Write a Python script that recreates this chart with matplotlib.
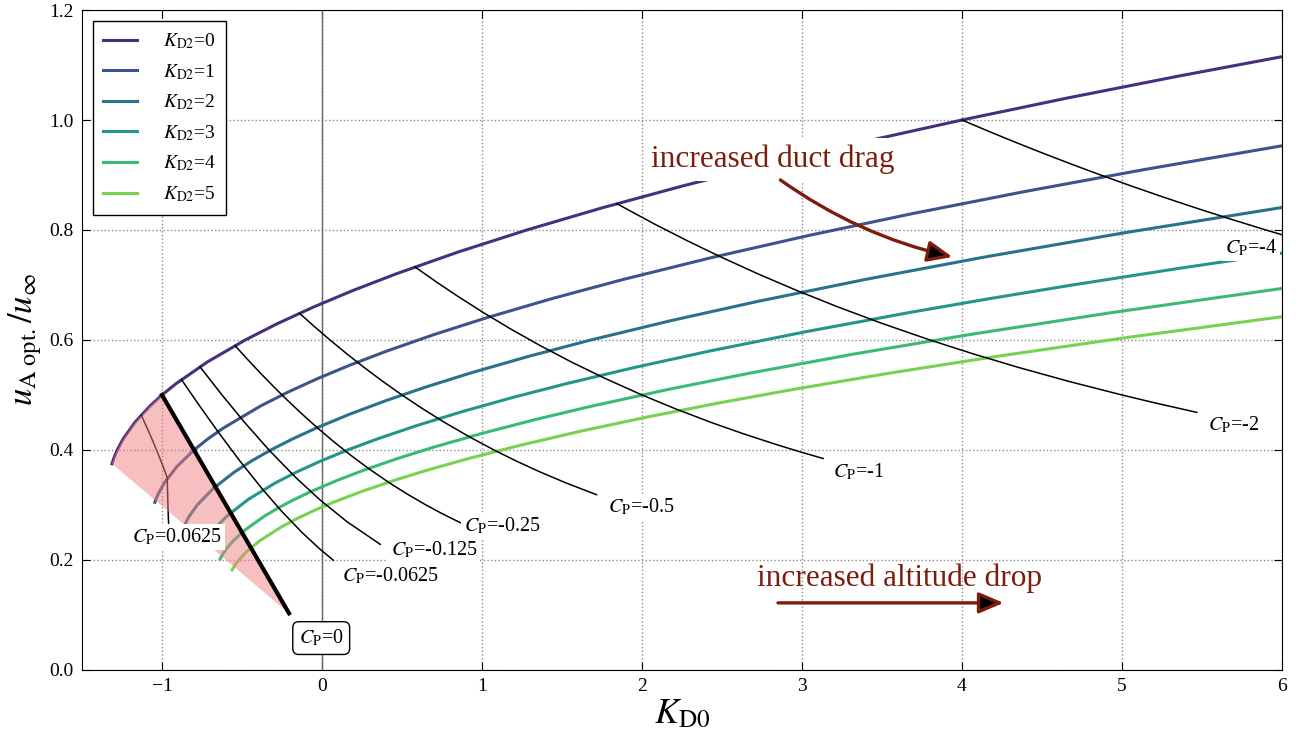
import numpy as np
import matplotlib
matplotlib.use("Agg")
import matplotlib.pyplot as plt

plt.rcParams['font.family'] = ['Liberation Serif', 'DejaVu Serif']
plt.rcParams['mathtext.fontset'] = 'stix'

# K_D2 curves: (K_D0, u_A opt / u_inf)
kd2_labels = ['0', '1', '2', '3', '4', '5']
kd2_colors = ['#472f7d', '#3b548c', '#2a728c', '#23958a', '#3bb977', '#79d151']

k0_y = [0.375, 0.38, 0.39, 0.40, 0.42, 0.45, 0.48, 0.50, 0.52, 0.56, 0.60, 0.63, 0.66,
        0.69, 0.72, 0.76, 0.80, 0.84, 0.88, 0.92, 0.96, 1.00, 1.04, 1.08, 1.1151]
k0_x = [-1.3125, -1.3072, -1.2948, -1.28, -1.2432, -1.17, -1.0752, -1.0, -0.9152,
        -0.7168, -0.48, -0.2772, -0.0528, 0.1932, 0.4608, 0.8512, 1.28, 1.7472,
        2.2528, 2.7968, 3.3792, 4.0, 4.6592, 5.3568, 6.0]
k1_y = [0.305, 0.31, 0.32, 0.34, 0.37, 0.40, 0.42, 0.44, 0.48, 0.505, 0.53, 0.555,
        0.58, 0.61, 0.64, 0.675, 0.71, 0.75, 0.79, 0.83, 0.87, 0.91, 0.9531]
k1_x = [-1.0446, -1.0385, -1.024, -0.986, -0.9065, -0.8, -0.714, -0.616, -0.384,
        -0.2146, -0.0265, 0.1804, 0.406, 0.7015, 1.024, 1.4344, 1.8815, 2.4375,
        3.0415, 3.6935, 4.3935, 5.1415, 6.0]
k2_y = [0.26, 0.27, 0.28, 0.30, 0.33, 0.36, 0.38, 0.40, 0.42, 0.44, 0.465, 0.49,
        0.515, 0.54, 0.57, 0.60, 0.635, 0.67, 0.71, 0.75, 0.795, 0.8409]
k2_x = [-0.8632, -0.8478, -0.8288, -0.78, -0.6798, -0.5472, -0.4408, -0.32, -0.1848,
        -0.0352, 0.1721, 0.4018, 0.6541, 0.9288, 1.2882, 1.68, 2.1781, 2.7202,
        3.3938, 4.125, 5.0165, 6.0]
k3_y = [0.227, 0.235, 0.245, 0.26, 0.28, 0.31, 0.34, 0.36, 0.38, 0.40, 0.42, 0.445,
        0.47, 0.495, 0.52, 0.55, 0.58, 0.615, 0.65, 0.675, 0.70, 0.73, 0.7579]
k3_x = [-0.7339, -0.7203, -0.6995, -0.6604, -0.5936, -0.4619, -0.2924, -0.1584,
        -0.0076, 0.16, 0.3444, 0.5985, 0.8789, 1.1855, 1.5184, 1.9525, 2.4244,
        3.0227, 3.6725, 4.1681, 4.69, 5.3509, 6.0]
k4_y = [0.202, 0.21, 0.22, 0.235, 0.255, 0.28, 0.295, 0.31, 0.325, 0.345, 0.365,
        0.385, 0.405, 0.43, 0.455, 0.48, 0.51, 0.54, 0.575, 0.61, 0.65, 0.6937]
k4_x = [-0.6367, -0.6216, -0.5984, -0.5546, -0.4794, -0.3584, -0.2714, -0.1736,
        -0.065, 0.0966, 0.2774, 0.4774, 0.6966, 0.9976, 1.3286, 1.6896, 2.1624,
        2.6784, 3.335, 4.0504, 4.94, 6.0]
k5_y = [0.182, 0.19, 0.20, 0.215, 0.235, 0.26, 0.275, 0.29, 0.305, 0.325, 0.345,
        0.365, 0.385, 0.41, 0.435, 0.46, 0.485, 0.51, 0.54, 0.57, 0.605, 0.6423]
k5_x = [-0.5617, -0.5453, -0.52, -0.4719, -0.3889, -0.2548, -0.1581, -0.0493,
        0.0717, 0.2519, 0.4537, 0.6771, 0.9221, 1.2587, 1.6291, 2.0332, 2.4711,
        2.9427, 3.5532, 4.2123, 5.0427, 6.0]

# iso C_P lines
cp_p0625_y = [0.4637, 0.44, 0.42, 0.40, 0.385, 0.37, 0.35, 0.29, 0.26]
cp_p0625_x = [-1.1296, -1.0931, -1.0632, -1.0344, -1.0135, -0.9934, -0.9679, -0.962, -0.958]
cp_0_y = [0.5, 0.103]
cp_0_x = [-1.0, -0.206]
cp_m0625_y = [0.5281, 0.48, 0.43, 0.38, 0.33, 0.29, 0.25, 0.22, 0.1995]
cp_m0625_x = [-0.8787, -0.7647, -0.642, -0.5133, -0.3759, -0.2567, -0.125, -0.0139, 0.0709]
cp_m125_y = [0.5513, 0.50, 0.45, 0.40, 0.35, 0.31, 0.27, 0.2284]
cp_m125_x = [-0.7625, -0.625, -0.4833, -0.3313, -0.1643, -0.0152, 0.1544, 0.3641]
cp_m25_y = [0.5898, 0.565, 0.54, 0.515, 0.49, 0.465, 0.44, 0.415, 0.39, 0.365, 0.34,
            0.32, 0.30, 0.285, 0.2675]
cp_m25_x = [-0.5438, -0.4663, -0.3856, -0.3018, -0.2147, -0.1235, -0.0277, 0.0736,
            0.1815, 0.2974, 0.4229, 0.5319, 0.65, 0.7458, 0.8669]
cp_m5_y = [0.6485, 0.625, 0.60, 0.575, 0.55, 0.525, 0.50, 0.475, 0.45, 0.425, 0.40,
           0.38, 0.36, 0.34, 0.3187]
cp_m5_x = [-0.1405, -0.05, 0.05, 0.1543, 0.2636, 0.3786, 0.5, 0.6289, 0.7667, 0.9147,
           1.075, 1.2137, 1.3633, 1.5259, 1.7159]
cp_m1_y = [0.7328, 0.705, 0.68, 0.65, 0.62, 0.59, 0.56, 0.53, 0.50, 0.475, 0.45,
           0.43, 0.41, 0.397, 0.3845]
cp_m1_x = [0.5813, 0.7177, 0.8459, 1.0077, 1.1794, 1.3624, 1.5586, 1.7702, 2.0,
           2.2079, 2.4333, 2.6284, 2.8385, 2.9843, 3.1322]
cp_m2_y = [0.8477, 0.81, 0.78, 0.75, 0.72, 0.69, 0.66, 0.63, 0.60, 0.575, 0.55,
           0.525, 0.50, 0.485, 0.4684]
cp_m2_x = [1.8436, 2.0837, 2.2862, 2.5, 2.7267, 2.9678, 3.2255, 3.5019, 3.8, 4.0674,
           4.3545, 4.6643, 5.0, 5.2156, 5.468]
cp_m4_y = [1.0, 0.98, 0.96, 0.94, 0.92, 0.90, 0.88, 0.86, 0.84, 0.82, 0.80, 0.78]
cp_m4_x = [4.0, 4.1624, 4.33, 4.503, 4.6817, 4.8667, 5.0582, 5.2567, 5.4629, 5.6771,
           5.9, 6.1323]

# label texts and anchor points (left edge, centre height)
cp_texts = ['0.0625', '-0.0625', '-0.125', '-0.25', '-0.5', '-1', '-2', '-4']
cp_text_x = [-1.185, 0.125, 0.43, 0.885, 1.79, 3.195, 5.535, 5.645]
cp_text_y = [0.242, 0.171, 0.219, 0.261, 0.296, 0.360, 0.445, 0.767]

fig = plt.figure(figsize=(13.04, 7.36), dpi=100)
ax = fig.add_axes([0.0629, 0.0897, 0.9202, 0.8967])

kd2_x = [k0_x, k1_x, k2_x, k3_x, k4_x, k5_x]
kd2_y = [k0_y, k1_y, k2_y, k3_y, k4_y, k5_y]
for xs, ys, lab, col in zip(kd2_x, kd2_y, kd2_labels, kd2_colors):
    ax.plot(xs, ys, color=col, lw=2.2, zorder=2,
            label=r'$K_\mathrm{D2}$=' + lab)

ax.plot(cp_p0625_x, cp_p0625_y, color='k', lw=1.1, zorder=2)
for xs, ys in [(cp_m0625_x, cp_m0625_y), (cp_m125_x, cp_m125_y),
               (cp_m25_x, cp_m25_y), (cp_m5_x, cp_m5_y), (cp_m1_x, cp_m1_y),
               (cp_m2_x, cp_m2_y), (cp_m4_x, cp_m4_y)]:
    ax.plot(xs, ys, color='k', lw=1.1, zorder=2)

# pink region: C_P > 0
px = [x for x, y in zip(k0_x, k0_y) if y <= 0.5] + [cp_0_x[1]]
py = [y for y in k0_y if y <= 0.5] + [cp_0_y[1]]
ax.fill(px, py, color='lightcoral', alpha=0.5, lw=0, zorder=3)
ax.plot(cp_0_x, cp_0_y, color='k', lw=3, zorder=4)

ax.axvline(0, color='0.4', lw=1, zorder=1)

box = dict(facecolor='white', edgecolor='none', pad=2)
for t, x, y in zip(cp_texts, cp_text_x, cp_text_y):
    ax.text(x, y, r'$C_\mathrm{P}$=' + t, fontsize=14.5, ha='left', va='center',
            bbox=box, zorder=6, clip_on=False)
ax.text(-0.005, 0.058, r'$C_\mathrm{P}$=0', fontsize=14.5, ha='center', va='center',
        bbox=dict(boxstyle='round,pad=0.3', facecolor='white', edgecolor='k', lw=1),
        zorder=6)

red = '#7c1c0c'
ax.text(2.82, 0.928, 'increased duct drag', fontsize=22.5, color=red,
        ha='center', va='center', zorder=5,
        bbox=dict(facecolor='white', edgecolor='none', pad=5))
ax.annotate('', xy=(3.94, 0.751), xytext=(2.865, 0.891), zorder=6,
            arrowprops=dict(arrowstyle='-|>,head_length=0.75,head_width=0.32',
                            mutation_scale=20, lw=2.4, edgecolor=red, facecolor='k',
                            connectionstyle='arc3,rad=0.1', shrinkA=0, shrinkB=0))
ax.text(3.61, 0.166, 'increased altitude drop', fontsize=22.5, color=red,
        ha='center', va='center', zorder=5)
ax.annotate('', xy=(4.26, 0.122), xytext=(2.85, 0.122), zorder=6,
            arrowprops=dict(arrowstyle='-|>,head_length=0.75,head_width=0.32',
                            mutation_scale=20, lw=2.4, edgecolor=red, facecolor='k',
                            shrinkA=0, shrinkB=0))

ax.set_xlim(-1.5, 6)
ax.set_ylim(0, 1.2)
ax.set_xticks([-1, 0, 1, 2, 3, 4, 5, 6])
ax.set_yticks([0.0, 0.2, 0.4, 0.6, 0.8, 1.0, 1.2])
ax.tick_params(direction='in', top=True, right=True, length=6, labelsize=14, pad=6)
ax.grid(True, linestyle=':', color='0.55', lw=1)
ax.set_axisbelow(True)
ax.set_xlabel(r'$K_\mathrm{D0}$', fontsize=26, labelpad=2)
ax.set_ylabel(r'$u_\mathrm{A\ opt.}/u_\infty$', fontsize=25, labelpad=4)

leg = ax.legend(loc='upper left', fontsize=14, fancybox=False, framealpha=1,
                edgecolor='k', handlelength=1.75, labelspacing=0.56,
                handletextpad=1.3, borderpad=0.55, borderaxespad=0.55)
leg.get_frame().set_linewidth(1)
leg.set_zorder(7)

fig.savefig('out.png', dpi=100)
